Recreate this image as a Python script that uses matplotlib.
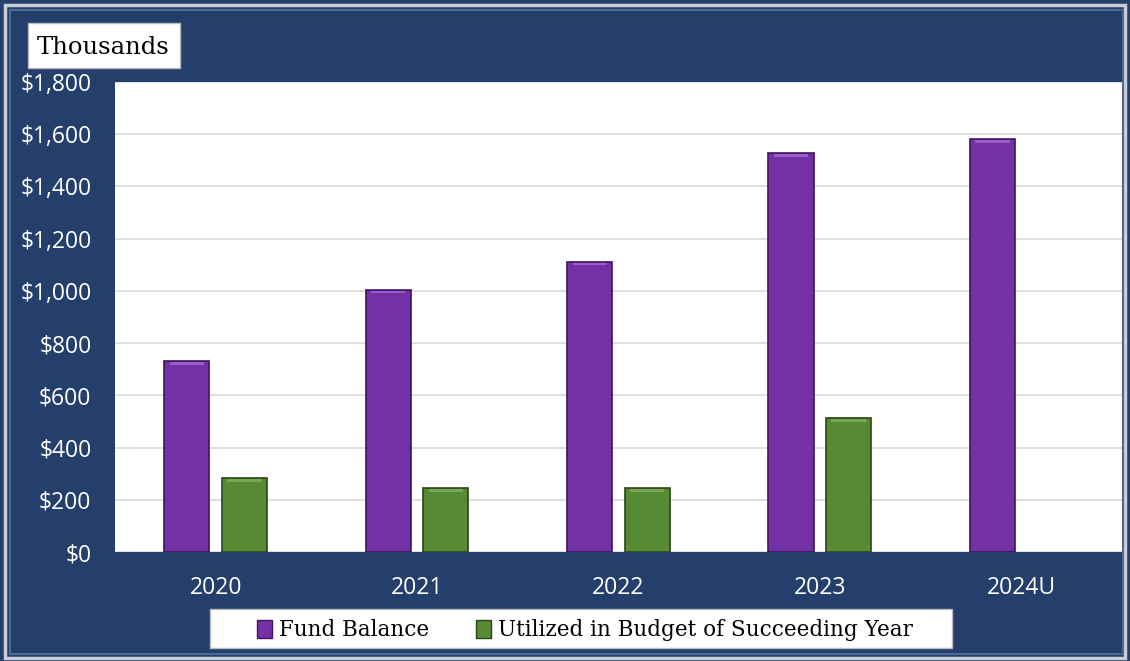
import matplotlib
matplotlib.use("Agg")
import matplotlib.pyplot as plt
import numpy as np
from matplotlib.patches import Rectangle, Patch
from matplotlib.ticker import FuncFormatter, MultipleLocator

categories = ["2020", "2021", "2022", "2023", "2024U"]
fund_balance = [730, 1005, 1112, 1528, 1582]
utilized = [283, 245, 245, 513, None]

NAVY = "#243F6B"
PURPLE = "#7431A6"
PURPLE_EDGE = "#3E1560"
GREEN = "#568A33"
GREEN_EDGE = "#2A4517"

fig = plt.figure(figsize=(11.3, 6.61), dpi=100)
fig.patch.set_facecolor(NAVY)

# outer bevel frame
fig.add_artist(Rectangle((0.004, 0.004), 0.992, 0.988, transform=fig.transFigure,
                         fill=False, edgecolor="#C9CDD6", linewidth=2.5))
fig.add_artist(Rectangle((0.009, 0.01), 0.985, 0.975, transform=fig.transFigure,
                         fill=False, edgecolor="#4B6A9A", linewidth=1.5))

ax = fig.add_axes([0.1018, 0.1649, 0.891, 0.711])
ax.set_facecolor("white")

x = np.arange(len(categories))
w = 0.224
off = 0.143
fb_bars = ax.bar(x - off, fund_balance, width=w, color=PURPLE, edgecolor=PURPLE_EDGE,
                 linewidth=1.2, zorder=3)
ut_x = [xi + off for xi, v in zip(x, utilized) if v is not None]
ut_v = [v for v in utilized if v is not None]
ut_bars = ax.bar(ut_x, ut_v, width=w, color=GREEN, edgecolor=GREEN_EDGE,
                 linewidth=1.2, zorder=3)

# subtle bevel highlight on top of bars
for bars, hl in ((fb_bars, "#9A5CC8"), (ut_bars, "#78A855")):
    for b in bars:
        bx, by = b.get_x(), b.get_y()
        bw, bh = b.get_width(), b.get_height()
        ax.add_patch(Rectangle((bx + bw * 0.12, by + bh - 14), bw * 0.76, 10,
                               facecolor=hl, edgecolor="none", zorder=4))

ax.set_xlim(-0.5, len(categories) - 0.5)
ax.set_ylim(0, 1800)
ax.yaxis.set_major_locator(MultipleLocator(200))
ax.yaxis.set_major_formatter(FuncFormatter(lambda v, p: "${:,.0f}".format(v)))
ax.grid(axis="y", color="#D9D9D9", linewidth=1.2, zorder=0)
ax.set_axisbelow(True)
ax.set_xticks(x)
ax.set_xticklabels(categories)
ax.tick_params(axis="both", length=0, colors="white", labelsize=16.5)
ax.tick_params(axis="x", pad=17)
ax.tick_params(axis="y", pad=17)
for lab in ax.get_xticklabels() + ax.get_yticklabels():
    lab.set_fontfamily("Open Sans")
for s in ax.spines.values():
    s.set_visible(False)

# Thousands label box
fig.add_artist(Rectangle((28 / 1130, 1 - 68 / 661), 152 / 1130, 45 / 661,
                         transform=fig.transFigure, facecolor="white",
                         edgecolor="#BBBBBB", linewidth=1))
fig.text(37 / 1130, 1 - 47 / 661, "Thousands", fontsize=17.5, family="DejaVu Serif",
         color="black", va="center", ha="left")

# legend
fig.add_artist(Rectangle((210 / 1130, 1 - 648 / 661), 742 / 1130, 39 / 661,
                         transform=fig.transFigure, facecolor="white",
                         edgecolor="#BBBBBB", linewidth=1))
handles = [Patch(facecolor=PURPLE, edgecolor=PURPLE_EDGE),
           Patch(facecolor=GREEN, edgecolor=GREEN_EDGE)]
leg = fig.legend(handles, ["Fund Balance", "Utilized in Budget of Succeeding Year"],
                 loc="center", bbox_to_anchor=(585 / 1130, 1 - 630 / 661), ncol=2,
                 frameon=False, prop={"family": "DejaVu Serif", "size": 15.5},
                 handlelength=0.7, handleheight=0.9, handletextpad=0.3,
                 columnspacing=2.2, borderpad=0.2, borderaxespad=0)

fig.savefig("out.png", dpi=100, facecolor=fig.get_facecolor())
